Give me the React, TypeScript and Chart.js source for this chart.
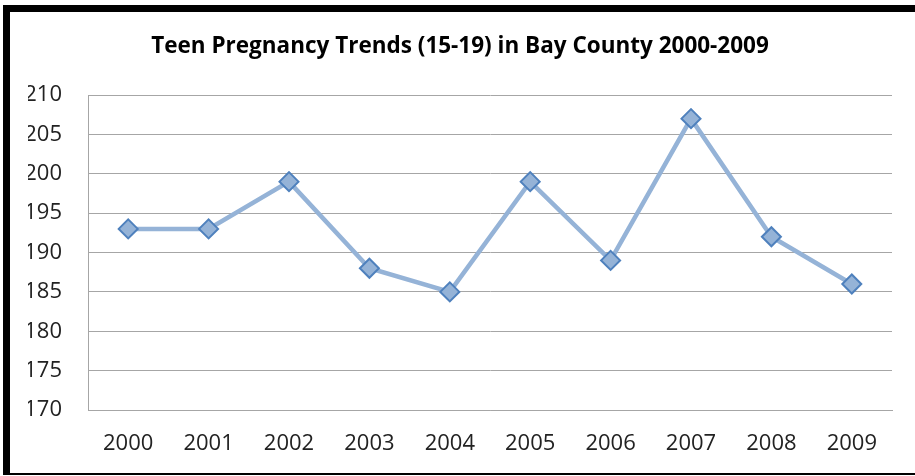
import React, { useEffect, useRef } from "react";
import { Chart, registerables } from "chart.js";

Chart.register(...registerables);

const TITLE = "Teen Pregnancy Trends (15-19) in Bay County 2000-2009";
const YEARS = ["2000", "2001", "2002", "2003", "2004", "2005", "2006", "2007", "2008", "2009"];
const PREGNANCIES = [193, 193, 199, 188, 185, 199, 189, 207, 192, 186];
const Y_MIN = 170;
const Y_MAX = 210;
const Y_STEP = 5;

export default function App() {
  const ref = useRef<HTMLCanvasElement | null>(null);

  useEffect(() => {
    if (!ref.current) return;
    const chart = new Chart(ref.current, {
      type: "line",
      data: {
        labels: YEARS,
        datasets: [
          {
            label: "Teen pregnancies",
            data: PREGNANCIES,
            borderColor: "#95b3d7",
            borderWidth: 4.5,
            backgroundColor: "#95b3d7",
            pointStyle: "rectRot",
            pointRadius: 9.5,
            pointBackgroundColor: "#95b3d7",
            pointBorderColor: "#4f81bd",
            pointBorderWidth: 2,
            tension: 0,
          },
        ],
      },
      options: {
        responsive: false,
        animation: false,
        devicePixelRatio: 1,
        layout: { padding: { left: 28, right: 23, top: 0, bottom: 0 } },
        plugins: {
          legend: { display: false },
          tooltip: { enabled: false },
          title: {
            display: true,
            text: TITLE,
            color: "#000000",
            font: { family: "'Open Sans'", size: 22.5, weight: "bold", lineHeight: 1.2 },
            padding: { top: 33, bottom: 35 },
          },
        },
        scales: {
          x: {
            offset: true,
            grid: { display: false, drawTicks: false },
            border: { display: true, color: "#a6a6a6", width: 1 },
            ticks: {
              color: "#222222",
              font: { family: "'Open Sans'", size: 22, lineHeight: 1.2 },
              padding: 21,
              maxRotation: 0,
              autoSkip: false,
            },
            afterFit: (scale: any) => {
              scale.height = 66;
            },
          },
          y: {
            min: Y_MIN,
            max: Y_MAX,
            grid: { color: "#a6a6a6", lineWidth: 1, drawTicks: false },
            border: { display: true, color: "#a6a6a6", width: 1 },
            ticks: {
              stepSize: Y_STEP,
              color: "#222222",
              font: { family: "'Open Sans'", size: 22, lineHeight: 1.2 },
              padding: 26,
            },
            afterFit: (scale: any) => {
              scale.width = 60;
            },
          },
        },
      },
    });
    return () => chart.destroy();
  }, []);

  return (
    <div
      style={{
        position: "fixed",
        left: 0,
        top: 0,
        width: 915,
        height: 476,
        overflow: "hidden",
        background: "#ffffff",
      }}
    >
      <canvas
        ref={ref}
        width={915}
        height={476}
        style={{ position: "absolute", left: 0, top: 0, width: 915, height: 476 }}
      />
      <div
        style={{
          position: "absolute",
          left: 3,
          top: 5,
          width: 1000,
          height: 470,
          boxSizing: "border-box",
          borderTop: "7px solid #000",
          borderLeft: "7px solid #000",
          borderBottom: "2px solid #000",
          pointerEvents: "none",
        }}
      />
    </div>
  );
}
